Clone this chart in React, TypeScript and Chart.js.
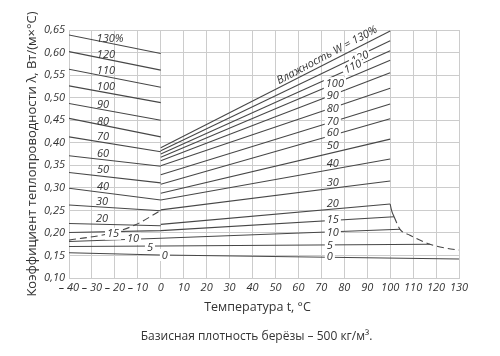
import React, { useEffect, useRef } from 'react';
import { Chart, registerables } from 'chart.js';

Chart.register(...registerables);

// Moisture content W, % (curves with a break at 0 °C)
const moistureLevels = [130, 120, 110, 100, 90, 80, 70, 60, 50, 40, 30, 20];
// λ at -40 °C and at 0 °C (frozen wood)
const frozenAtMinus40 = [0.639, 0.602, 0.563, 0.526, 0.487, 0.454, 0.413, 0.371, 0.334, 0.299, 0.262, 0.221];
const frozenAt0 = [0.598, 0.561, 0.523, 0.489, 0.450, 0.413, 0.380, 0.348, 0.311, 0.273, 0.249, 0.216];
// λ at 0 °C and at 100 °C (thawed wood)
const thawedAt0 = [0.389, 0.382, 0.375, 0.368, 0.360, 0.349, 0.329, 0.308, 0.288, 0.273, 0.251, 0.219];
const thawedAt100 = [0.648, 0.626, 0.604, 0.583, 0.555, 0.521, 0.486, 0.453, 0.408, 0.364, 0.315, 0.264];

// Low moisture curves running through the whole range
const lowMoistureLevels = [15, 10, 5, 0];
const lowTemps = [
  [-40, 0, 101.7],
  [-40, 0, 104.3],
  [-40, 0, 117.3],
  [-40, 0, 130],
];
const lowValues = [
  [0.201, 0.205, 0.236],
  [0.181, 0.188, 0.208],
  [0.170, 0.171, 0.175],
  [0.156, 0.151, 0.142],
];

// Dashed boundary below 0 °C
const iceTemps = [-40, -22, -11, 0];
const iceValues = [0.184, 0.199, 0.218, 0.25];

// Boundary above 100 °C
const dryingTemps = [100, 100.6, 101.7, 104.3, 108.6, 117.3, 124.6, 130];
const dryingValues = [0.264, 0.25, 0.236, 0.208, 0.195, 0.175, 0.166, 0.162];

// Axis
const tempMin = -40;
const tempMax = 130;
const tempStep = 10;
const lambdaMin = 0.1;
const lambdaMax = 0.65;
const lambdaStep = 0.05;

const captionText = 'Базисная плотность берёзы – 500 кг/м³.';

// Curve labels: [text, temperature, λ, breaks line, angle]
const curveLabels: [string, number, number, boolean, number][] = [
  ['130%', -22.1, 0.632, false, 0],
  ['120', -23.9, 0.597, false, 0],
  ['110', -23.9, 0.561, false, 0],
  ['100', -23.9, 0.524, false, 0],
  ['90', -25.2, 0.486, false, 0],
  ['80', -25.2, 0.448, false, 0],
  ['70', -25.2, 0.415, false, 0],
  ['60', -25.2, 0.377, false, 0],
  ['50', -25.2, 0.34, false, 0],
  ['40', -25.2, 0.304, false, 0],
  ['30', -25.6, 0.269, false, 0],
  ['20', -25.6, 0.233, false, 0],
  ['15', -20.8, 0.198, true, 0],
  ['10', -12.1, 0.187, true, 0],
  ['5', -4.7, 0.169, true, 0],
  ['0', 1.8, 0.151, true, 0],
  ['Влажность W = 130%', 72.4, 0.595, false, -28],
  ['120', 86.8, 0.589, true, -26],
  ['110', 83.7, 0.569, true, -25],
  ['100', 75.9, 0.532, true, 0],
  ['90', 75.0, 0.506, true, 0],
  ['80', 75.0, 0.477, true, 0],
  ['70', 75.0, 0.448, true, 0],
  ['60', 75.0, 0.422, true, 0],
  ['50', 75.0, 0.395, false, 0],
  ['40', 75.0, 0.355, false, 0],
  ['30', 75.0, 0.311, false, 0],
  ['20', 75.0, 0.266, false, 0],
  ['15', 75.0, 0.229, true, 0],
  ['10', 75.0, 0.202, true, 0],
  ['5', 73.7, 0.173, true, 0],
  ['0', 73.7, 0.149, true, 0],
];

const LINE = '#474747';
const GRID = '#cccccc';
const TEXT = '#333333';

const labelPlugin = {
  id: 'curveLabels',
  afterDatasetsDraw(chart: any) {
    const { ctx } = chart;
    const xs = chart.scales.x;
    const ys = chart.scales.y;
    ctx.save();
    ctx.font = 'italic 11px "Open Sans"';
    ctx.textAlign = 'center';
    ctx.textBaseline = 'middle';
    for (const [text, t, v, gap, angle] of curveLabels) {
      const px = xs.getPixelForValue(t);
      const py = ys.getPixelForValue(v);
      ctx.save();
      ctx.translate(px, py);
      ctx.rotate((angle * Math.PI) / 180);
      if (gap) {
        const w = ctx.measureText(text).width;
        ctx.fillStyle = '#ffffff';
        ctx.fillRect(-w / 2 - 2, -6, w + 4, 12);
      }
      ctx.fillStyle = TEXT;
      ctx.fillText(text, 0, 0.5);
      ctx.restore();
    }
    ctx.restore();
  },
  afterDraw(chart: any) {
    const { ctx } = chart;
    ctx.save();
    ctx.font = '12px "Open Sans"';
    ctx.textAlign = 'center';
    ctx.textBaseline = 'middle';
    ctx.fillStyle = TEXT;
    ctx.fillText(captionText, chart.width / 2 + 6.5, chart.height - 19);
    ctx.restore();
  },
};

export default function App() {
  const ref = useRef<HTMLCanvasElement>(null);

  useEffect(() => {
    if (!ref.current) return;
    const base = { borderColor: LINE, borderWidth: 1.1, pointRadius: 0, fill: false };
    const datasets: any[] = [];
    moistureLevels.forEach((w, i) => {
      datasets.push({
        ...base,
        label: `W${w} frozen`,
        data: [
          { x: tempMin, y: frozenAtMinus40[i] },
          { x: 0, y: frozenAt0[i] },
        ],
      });
      datasets.push({
        ...base,
        label: `W${w} thawed`,
        data: [
          { x: 0, y: thawedAt0[i] },
          { x: 100, y: thawedAt100[i] },
        ],
      });
    });
    lowMoistureLevels.forEach((w, i) => {
      datasets.push({
        ...base,
        label: `W${w}`,
        data: lowTemps[i].map((t, j) => ({ x: t, y: lowValues[i][j] })),
      });
    });
    datasets.push({
      ...base,
      label: 'ice',
      borderDash: [7, 4],
      cubicInterpolationMode: 'monotone',
      data: iceTemps.map((t, j) => ({ x: t, y: iceValues[j] })),
    });
    datasets.push({
      ...base,
      label: 'drying',
      cubicInterpolationMode: 'monotone',
      segment: {
        borderDash: (c: any) => (c.p0.parsed.x >= 101.6 ? [7, 4] : undefined),
      },
      data: dryingTemps.map((t, j) => ({ x: t, y: dryingValues[j] })),
    });

    const chart = new Chart(ref.current, {
      type: 'line',
      data: { datasets },
      plugins: [labelPlugin],
      options: {
        animation: false,
        responsive: false,
        devicePixelRatio: 1,
        font: { family: '"Open Sans", sans-serif' },
        layout: { padding: { top: 30, right: 41, left: 0, bottom: 32 } },
        plugins: {
          legend: { display: false },
          tooltip: { enabled: false },
          title: { display: false },
        },
        scales: {
          x: {
            type: 'linear',
            min: tempMin,
            max: tempMax,
            afterFit: (s: any) => {
              s.height = 46;
            },
            ticks: {
              stepSize: tempStep,
              autoSkip: false,
              maxRotation: 0,
              padding: 3,
              color: TEXT,
              font: { family: '"Open Sans", sans-serif', size: 11, style: 'italic' },
              callback: (v: any) => (Number(v) < 0 ? '– ' + Math.abs(Number(v)) : String(v)),
            },
            grid: { color: GRID, drawTicks: false },
            border: { color: GRID },
            title: {
              display: true,
              text: 'Температура t, °C\u00a0\u00a0\u00a0\u00a0',
              color: TEXT,
              font: { family: '"Open Sans", sans-serif', size: 12.5 },
              padding: { top: 9, bottom: 9 },
            },
          },
          y: {
            type: 'linear',
            min: lambdaMin,
            max: lambdaMax,
            afterFit: (s: any) => {
              s.width = 69;
            },
            ticks: {
              stepSize: lambdaStep,
              autoSkip: false,
              padding: 4,
              color: TEXT,
              font: { family: '"Open Sans", sans-serif', size: 11, style: 'italic' },
              callback: (v: any) => Number(v).toFixed(2).replace('.', ','),
            },
            grid: { color: GRID, drawTicks: false },
            border: { color: GRID },
            title: {
              display: true,
              text: 'Коэффициент теплопроводности λ, Вт/(м×°С)',
              color: TEXT,
              font: { family: '"Open Sans", sans-serif', size: 13 },
              padding: { top: 24, bottom: 24 },
            },
          },
        },
      },
    });
    return () => chart.destroy();
  }, []);

  return (
    <div style={{ position: 'absolute', left: 0, top: 0, width: 500, height: 356, background: '#fff' }}>
      <canvas ref={ref} width={500} height={356} />
    </div>
  );
}
